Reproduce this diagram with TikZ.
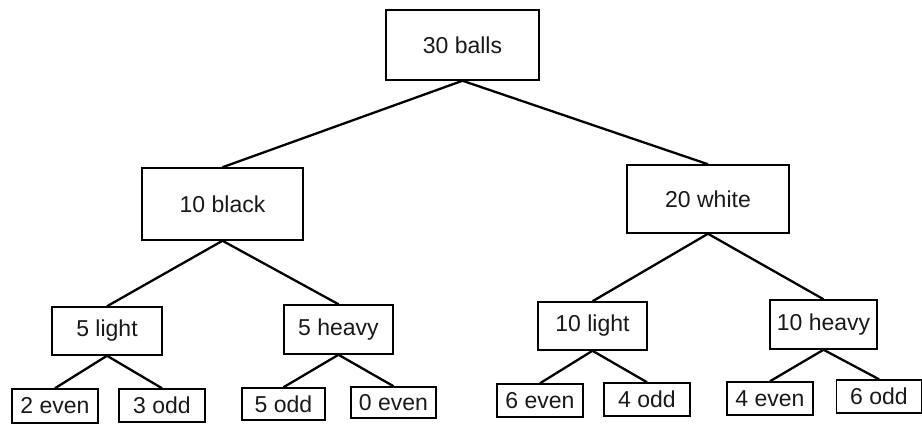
\documentclass[tikz,border=0pt]{standalone}
\usepackage{fontspec}
\setmainfont{Liberation Sans}
\begin{document}
\begin{tikzpicture}[x=1pt,y=-1pt,
  box/.style={draw=black, line width=1.5pt, inner sep=0pt, fill=white,
    font=\fontsize{23}{27}\selectfont, text=black!90},
  conn/.style={draw=black, line width=2.3pt}]
\useasboundingbox (0,0) rectangle (922,426);
\fill[white] (0,0) rectangle (922,426);
% level 0
\node[box, minimum width=153pt, minimum height=70pt] (root) at (462.5,45) {30 balls};
% level 1
\node[box, minimum width=161pt, minimum height=72pt] (black) at (222.5,204) {10 black};
\node[box, minimum width=162pt, minimum height=68pt] (white) at (708,199) {20 white};
% level 2
\node[box, minimum width=110pt, minimum height=48pt] (bl) at (107,331) {5 light};
\node[box, minimum width=109pt, minimum height=49pt] (bh) at (338.5,329.5) {5 heavy};
\node[box, minimum width=109pt, minimum height=48pt] (wl) at (592.5,326) {10 light};
\node[box, minimum width=107pt, minimum height=49pt] (wh) at (823.5,324.5) {10 heavy};
% level 3
\node[box, minimum width=86pt, minimum height=34pt] (ble) at (55,406) {2 even};
\node[box, minimum width=86pt, minimum height=33pt] (blo) at (162,405.5) {3 odd};
\node[box, minimum width=83pt, minimum height=32pt] (bho) at (283.5,404) {5 odd};
\node[box, minimum width=85pt, minimum height=31pt] (bhe) at (393.5,402.5) {0 even};
\node[box, minimum width=86pt, minimum height=33pt] (wle) at (540,400.5) {6 even};
\node[box, minimum width=86pt, minimum height=33pt] (wlo) at (647,399.5) {4 odd};
\node[box, minimum width=86pt, minimum height=33pt] (whe) at (770,398.5) {4 even};
\node[box, minimum width=85pt, minimum height=33pt] (who) at (879,396.5) {6 odd};
% connectors
\draw[conn] (root.south) -- (black.north);
\draw[conn] (root.south) -- (white.north);
\draw[conn] (black.south) -- (bl.north);
\draw[conn] (black.south) -- (bh.north);
\draw[conn] (white.south) -- (wl.north);
\draw[conn] (white.south) -- (wh.north);
\draw[conn] (bl.south) -- (ble.north);
\draw[conn] (bl.south) -- (blo.north);
\draw[conn] (bh.south) -- (bho.north);
\draw[conn] (bh.south) -- (bhe.north);
\draw[conn] (wl.south) -- (wle.north);
\draw[conn] (wl.south) -- (wlo.north);
\draw[conn] (wh.south) -- (whe.north);
\draw[conn] (wh.south) -- (who.north);
\end{tikzpicture}
\end{document}
